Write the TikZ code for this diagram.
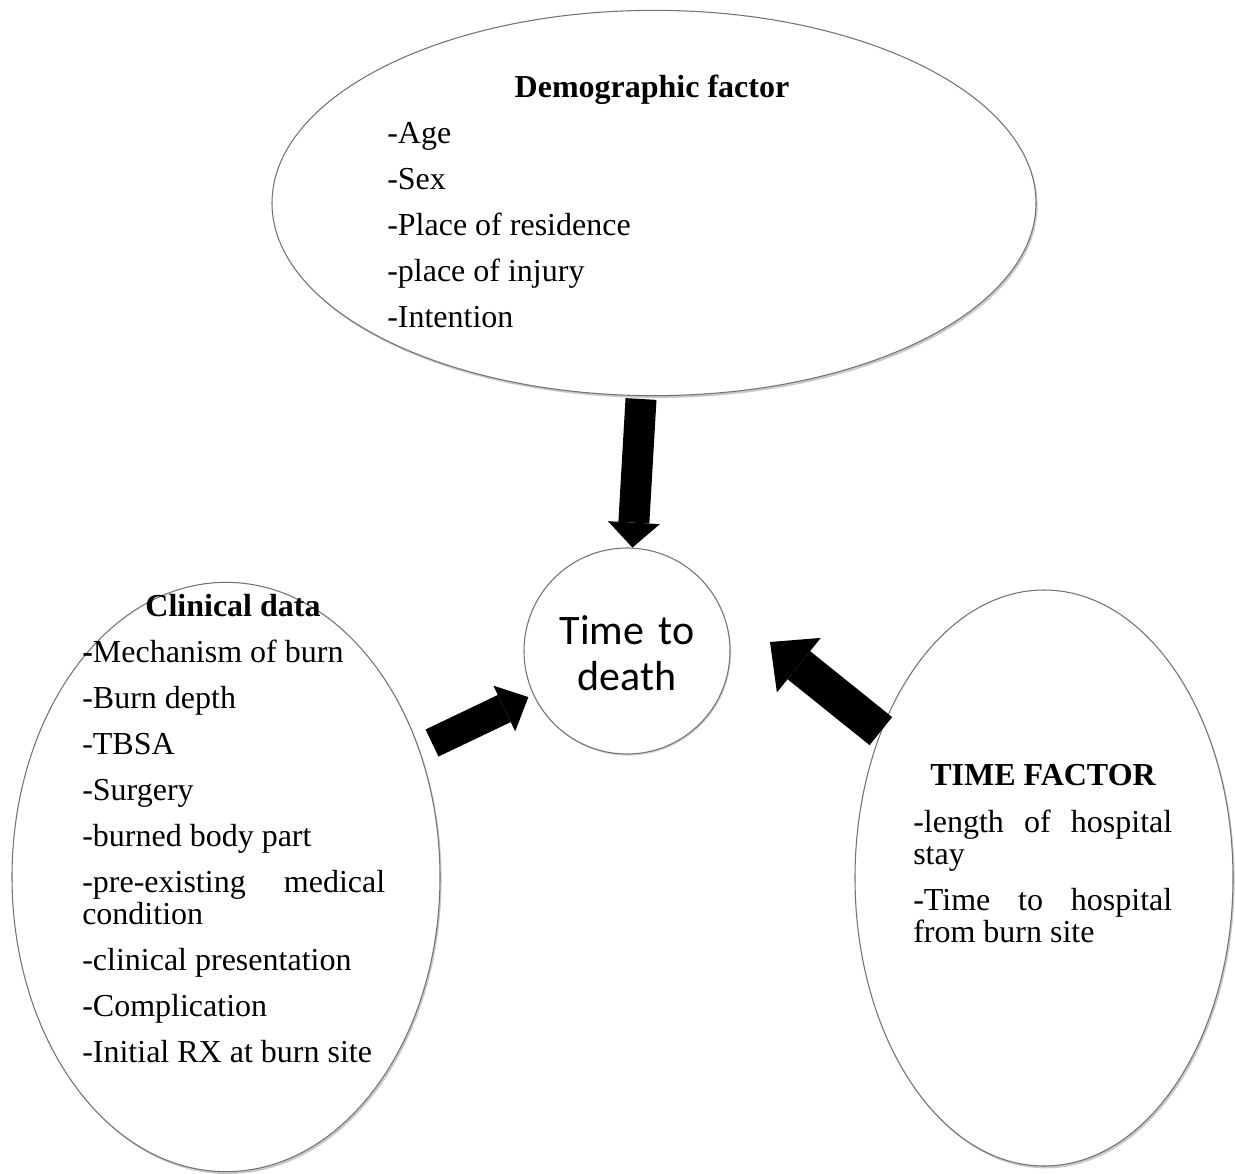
\documentclass[tikz,border=0pt]{standalone}
\usepackage{fontspec}
\setmainfont{Liberation Serif}
\newfontfamily\calib{Carlito}
\usetikzlibrary{arrows.meta,shadows,calc,shapes.geometric}
\newcommand\gapline{\par\vspace{10.5pt}}
\begin{document}
\begin{tikzpicture}[x=0.75pt,y=-0.75pt,
  bubble/.style={ellipse, draw=black!55, line width=0.8pt, fill=white, inner sep=0pt,
    drop shadow={shadow xshift=1.2pt, shadow yshift=-1.8pt, opacity=0.35, fill=black!60}},
  head/.style={anchor=base, inner sep=0pt, font=\bfseries\fontsize{24}{24}\selectfont},
  itemlist/.style={anchor=base west, inner sep=0pt, align=justify,
    font=\fontsize{24}{24}\selectfont,
    execute at begin node={\hyphenpenalty=10000\exhyphenpenalty=10000\tolerance=10000}},
  fat/.style={line width=#1}
]
\useasboundingbox (0,0) rectangle (1235,1174);

% shapes
\node[bubble, minimum width=573pt, minimum height=289pt] (top) at (654,203) {};
\node[bubble, minimum width=321pt, minimum height=442pt] (le) at (226,877) {};
\node[bubble, minimum width=283.5pt, minimum height=432pt] (re) at (1044,878) {};
\node[circle, draw=black!55, line width=0.8pt, fill=white, minimum size=154.5pt, inner sep=0pt,
  drop shadow={shadow xshift=0.8pt, shadow yshift=-1.2pt, opacity=0.3, fill=black!60}] (c) at (627,651) {};

% texts
\node[head] (dh) at (652,97) {Demographic factor};
\node[itemlist, text width=300pt] (dl) at (387,143)
  {-Age\gapline -Sex\gapline -Place of residence\gapline -place of injury\gapline -Intention};

\node[head] (ch) at (233,616) {Clinical data};
\node[itemlist, text width=227.25pt] (cl) at (82,662)
  {\textbf{-}Mechanism of burn\gapline -Burn depth\gapline -TBSA\gapline -Surgery\gapline
   -burned body part\gapline -pre-existing medical condition\gapline -clinical presentation\gapline
   -Complication\gapline -Initial RX at burn site};

\node[head] (th) at (1043,785) {TIME FACTOR};
\node[itemlist, text width=194.25pt] (tl) at (913,832)
  {-length of hospital stay\gapline -Time to hospital from burn site};

\node[anchor=base, inner sep=0pt, text width=150pt, align=center,
  font=\calib\fontsize{31.5}{34.5}\selectfont] (ct) at (627,644) {Time to\\death};

% arrows
\coordinate (dT) at (641,399);
\coordinate (lT) at (432,743);
\coordinate (rE) at (770,642);
\draw[fat=23.25pt, -{Triangle[length=18.75pt 0, width=39pt 0, line width=0pt]}] (dT) -- (c.87);
\draw[fat=22.5pt, -{Triangle[length=20pt 0, width=38pt 0, line width=0pt]}, shorten >=4pt] (lT) -- (c.205);
\draw[fat=27pt, -{Triangle[length=27.75pt 0, width=52.5pt 0, line width=0pt]}] (re.138) -- (rE);
\end{tikzpicture}
\end{document}
